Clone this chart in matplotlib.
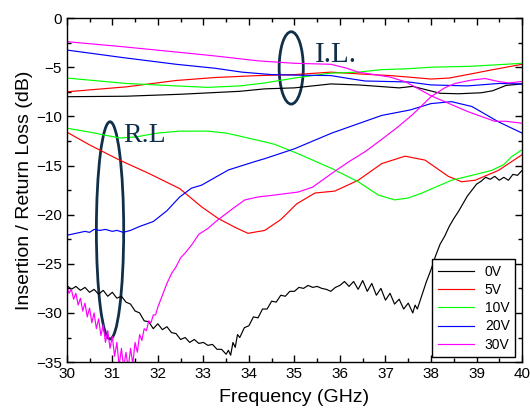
import matplotlib
matplotlib.use('Agg')
import matplotlib.pyplot as plt
from matplotlib.patches import Ellipse

# ─── data ───────────────────────────────────────────
labels = ['0V', '5V', '10V', '20V', '30V']
colors = ['#000000', '#ff0000', '#00ff00', '#0000ff', '#ff00ff']

# insertion loss (upper group)
il_0v_x = [30.0, 31.3, 32.5, 33.8, 34.35, 35.0, 35.8, 36.4, 37.3, 37.6, 38.2, 38.6, 39.1, 39.35, 39.65, 40.0]
il_0v_y = [-8.0, -7.95, -7.75, -7.45, -7.2, -7.1, -6.7, -6.8, -7.1, -6.95, -7.65, -7.7, -7.6, -7.4, -6.85, -6.7]
il_5v_x = [30.0, 31.3, 32.4, 33.25, 34.2, 35.0, 35.8, 36.5, 37.1, 37.5, 38.0, 38.4, 38.8, 39.3, 40.0]
il_5v_y = [-7.5, -7.0, -6.35, -6.05, -5.85, -5.75, -5.5, -5.7, -5.85, -6.0, -6.2, -6.1, -5.75, -5.3, -4.7]
il_10v_x = [30.0, 31.3, 32.4, 33.1, 33.8, 34.35, 35.0, 35.8, 36.4, 36.9, 37.5, 38.0, 38.9, 40.0]
il_10v_y = [-6.1, -6.65, -6.9, -7.05, -6.9, -6.6, -6.1, -5.6, -5.5, -5.25, -5.15, -5.0, -4.9, -4.6]
il_20v_x = [30.0, 31.2, 32.4, 33.25, 33.85, 34.5, 35.0, 35.8, 36.2, 36.55, 37.5, 38.0, 38.8, 39.5, 40.0]
il_20v_y = [-3.25, -4.0, -4.7, -5.1, -5.5, -5.75, -5.8, -5.85, -6.15, -6.4, -6.5, -6.8, -6.9, -6.65, -6.7]
il_30v_x = [30.0, 31.2, 32.4, 33.25, 34.2, 35.0, 35.8, 36.15, 36.4, 37.1, 37.45, 38.0, 38.4, 38.8, 39.4, 39.65, 40.0]
il_30v_y = [-2.4, -2.9, -3.45, -3.85, -4.35, -4.6, -4.7, -5.1, -5.5, -6.0, -6.5, -7.9, -8.7, -9.5, -10.5, -10.5, -10.7]

# return loss (lower group)
rl_0v_x = [30.0, 30.1, 30.2, 30.3, 30.4, 30.5, 30.6, 30.7, 30.8, 30.9, 31.0, 31.1, 31.2, 31.3, 31.4,
           31.5, 31.6, 31.7, 31.8, 31.9, 32.0, 32.1, 32.2, 32.3, 32.4, 32.5, 32.6, 32.7, 32.8, 32.9,
           33.0, 33.1, 33.2, 33.3, 33.4, 33.5, 33.55, 33.6, 33.65, 33.7, 33.75, 33.8, 33.9, 34.0, 34.1,
           34.2, 34.3, 34.4, 34.5, 34.6, 34.7, 34.8, 34.9, 35.0, 35.1, 35.2, 35.3, 35.4, 35.5, 35.6,
           35.7, 35.8, 35.9, 36.0, 36.1, 36.2, 36.3, 36.4, 36.5, 36.6, 36.7, 36.8, 36.9, 37.0, 37.1,
           37.2, 37.3, 37.4, 37.5, 37.6, 37.65, 37.7, 37.8, 37.9, 38.0, 38.1, 38.2, 38.3, 38.4, 38.5,
           38.6, 38.7, 38.8, 38.9, 39.0, 39.1, 39.2, 39.3, 39.4, 39.5, 39.6, 39.7, 39.8, 39.9, 40.0]
rl_0v_y = [-27.2, -27.6, -27.3, -27.7, -27.4, -27.9, -27.6, -28.1, -27.7, -28.3, -27.9, -28.5, -28.3, -28.9, -29.1,
           -29.8, -30.0, -30.8, -30.9, -31.6, -31.1, -31.7, -31.4, -32.0, -32.1, -32.7, -32.5, -33.0, -32.7, -33.1,
           -33.0, -33.3, -33.2, -33.7, -33.7, -34.2, -33.8, -34.3, -33.0, -33.5, -32.2, -32.5, -31.5, -31.3, -30.4,
           -30.5, -29.6, -29.6, -28.8, -28.9, -28.2, -28.3, -27.8, -27.8, -27.4, -27.5, -27.2, -27.4, -27.3, -27.5,
           -27.6, -27.8, -27.4, -27.2, -26.8, -27.3, -26.8, -27.6, -26.7, -27.8, -27.0, -28.2, -27.5, -28.7, -28.0,
           -29.1, -28.6, -29.6, -29.0, -30.0, -29.2, -29.6, -28.2, -26.8, -25.6, -24.2, -23.0, -22.2, -21.2, -20.4,
           -19.7, -18.9, -18.1, -17.5, -16.9, -16.6, -16.2, -16.4, -16.1, -16.5, -16.2, -16.5, -15.9, -16.0, -15.5]
rl_5v_x = [30.0, 30.5, 31.16, 31.8, 32.48, 32.96, 33.33, 33.7, 33.98, 34.35, 34.7, 35.05, 35.45, 35.89,
           36.4, 36.92, 37.43, 37.87, 38.38, 38.67, 38.97, 39.48, 40.0]
rl_5v_y = [-11.6, -12.9, -14.45, -15.8, -17.35, -19.2, -20.4, -21.3, -21.9, -21.6, -20.5, -18.9, -17.8, -17.6,
           -16.5, -14.8, -14.05, -14.45, -16.1, -16.65, -16.5, -15.5, -13.9]
rl_10v_x = [30.0, 30.5, 31.16, 31.5, 32.0, 32.48, 33.1, 33.5, 33.84, 34.35, 34.57, 35.08, 35.82, 36.4,
            36.84, 37.2, 37.5, 37.8, 38.45, 38.9, 39.33, 39.6, 39.77, 40.0]
rl_10v_y = [-11.2, -11.6, -12.2, -12.1, -11.7, -11.5, -11.5, -11.7, -12.05, -12.6, -12.85, -13.8, -15.3, -16.65,
            -18.0, -18.5, -18.3, -17.8, -16.5, -16.0, -15.5, -14.9, -14.1, -13.4]
rl_20v_x = [30.0, 30.2, 30.4, 30.5, 30.6, 30.73, 30.85, 31.0, 31.1, 31.24, 31.4, 31.6, 31.9, 32.2, 32.48,
            32.74, 32.96, 33.55, 34.13, 34.35, 35.0, 35.82, 36.92, 37.54, 38.0, 38.45, 38.9, 39.48, 40.0]
rl_20v_y = [-22.1, -21.9, -21.7, -21.8, -21.5, -21.6, -21.5, -21.7, -21.6, -21.8, -21.6, -21.2, -20.7, -19.6, -18.2,
            -17.3, -17.0, -15.45, -14.6, -14.3, -13.3, -11.7, -9.9, -9.35, -8.7, -8.5, -9.0, -10.55, -11.7]
rl_30v_x = [30.0, 30.05, 30.1, 30.15, 30.2, 30.25, 30.3, 30.35, 30.4, 30.45, 30.5, 30.55, 30.6, 30.65, 30.7,
            30.75, 30.8, 30.85, 30.9, 30.95, 31.0, 31.05, 31.1, 31.15, 31.2, 31.25, 31.3, 31.35, 31.4, 31.45,
            31.5, 31.55, 31.6, 31.65, 31.7, 31.75, 31.8, 31.85, 31.9, 31.95, 32.0, 32.1, 32.2, 32.3, 32.4,
            32.5, 32.6, 32.74, 32.9, 33.1, 33.3, 33.47, 33.7, 33.91, 34.2, 34.57, 35.08, 35.4, 35.82, 36.2,
            36.55, 36.9, 37.28, 37.6, 38.0, 38.3, 38.53, 38.9, 39.19, 39.48, 39.7, 40.0]
rl_30v_y = [-27.3, -28.0, -27.6, -28.6, -28.0, -29.2, -28.5, -29.8, -29.0, -30.4, -29.5, -31.0, -30.0, -31.6, -30.6,
            -32.3, -31.2, -33.0, -31.8, -33.6, -32.4, -34.4, -33.0, -35.4, -33.6, -35.6, -34.0, -35.6, -33.6, -35.2,
            -33.0, -34.0, -32.2, -32.8, -31.6, -31.8, -30.8, -31.0, -30.2, -30.2, -29.4, -28.2, -27.0, -26.0, -25.3,
            -24.4, -23.9, -23.1, -22.0, -21.4, -20.6, -20.0, -19.2, -18.5, -18.2, -18.0, -17.7, -17.2, -15.8, -14.6,
            -13.6, -12.4, -11.05, -9.8, -8.0, -7.1, -6.65, -6.3, -6.15, -6.45, -6.6, -6.45]

il_x = [il_0v_x, il_5v_x, il_10v_x, il_20v_x, il_30v_x]
il_y = [il_0v_y, il_5v_y, il_10v_y, il_20v_y, il_30v_y]
rl_x = [rl_0v_x, rl_5v_x, rl_10v_x, rl_20v_x, rl_30v_x]
rl_y = [rl_0v_y, rl_5v_y, rl_10v_y, rl_20v_y, rl_30v_y]

# ─── figure ────────────────────────────────────────
plt.rcParams['font.family'] = ['Liberation Sans', 'DejaVu Sans']
fig = plt.figure(figsize=(5.3, 4.11), dpi=100)
ax = fig.add_axes([0.126, 0.119, 0.859, 0.837])

for lab, c, xi, yi, xr, yr in zip(labels, colors, il_x, il_y, rl_x, rl_y):
    ax.plot(xi, yi, color=c, lw=0.85, label=lab)
    ax.plot(xr, yr, color=c, lw=0.85)

ax.set_xlim(30, 40)
ax.set_ylim(-35, 0)
ax.set_xticks(range(30, 41))
ax.set_xticks([30.5 + i for i in range(10)], minor=True)
ax.set_yticks(range(-35, 1, 5))
ax.set_yticks([-2.5 - 5 * i for i in range(7)], minor=True)
ax.tick_params(which='both', direction='in', top=True, right=True, labelsize=11, width=1)
ax.tick_params(which='major', length=5)
ax.tick_params(which='minor', length=3)
for s in ax.spines.values():
    s.set_linewidth(1.0)

ax.set_xlabel('Frequency (GHz)', fontsize=14, labelpad=6)
ax.set_ylabel('Insertion / Return Loss (dB)', fontsize=14, labelpad=2)

# annotations
navy = '#10304a'
ax.add_patch(Ellipse((30.95, -21.6), 0.6, 22.1, fill=False, ec=navy, lw=2))
ax.add_patch(Ellipse((34.93, -5.07), 0.53, 7.36, fill=False, ec=navy, lw=2))
ax.text(31.25, -12.6, 'R.L', family=['Liberation Serif', 'DejaVu Serif'], fontsize=20, color=navy)
ax.text(35.45, -4.5, 'I.L.', family=['Liberation Serif', 'DejaVu Serif'], fontsize=21, color=navy)

leg = ax.legend(loc='lower right', bbox_to_anchor=(0.985, 0.0145), borderaxespad=0,
                fontsize=10, handlelength=2.6, labelspacing=0.3, fancybox=False,
                edgecolor='black', framealpha=1)
leg.get_frame().set_linewidth(1.0)

fig.savefig('out.png', dpi=100)
